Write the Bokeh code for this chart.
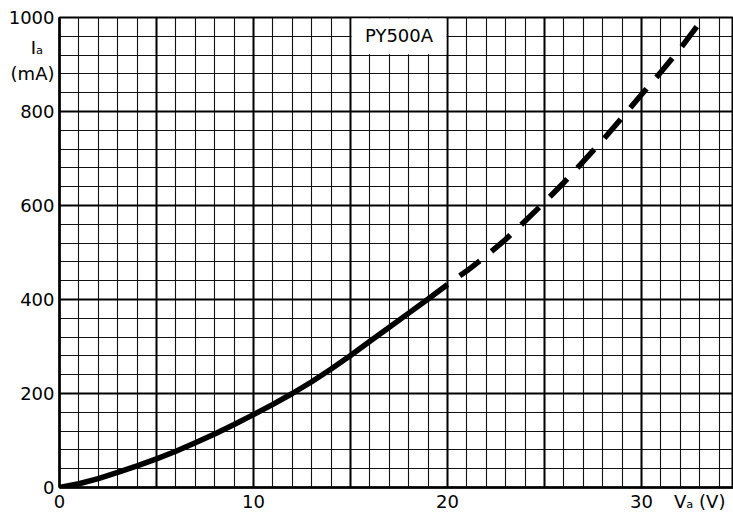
from bokeh.plotting import figure
from bokeh.models import (SingleIntervalTicker, FixedTicker, Grid, Label, BoxAnnotation, Range1d)
from bokeh.embed import file_html
from bokeh.resources import INLINE

# Data (PY500A anode characteristic)
va_solid = [0, 1, 2, 3, 4, 5, 6, 7, 8, 9, 10, 11, 12, 13, 14, 15, 16, 17, 18, 19, 20]
ia_solid = [0, 8, 19, 32, 46, 61, 77, 95, 114, 134, 155, 177, 200, 225, 252, 281, 311, 341, 371, 401, 432]
va_dash = [20, 21, 22, 23, 24, 25, 26, 27, 28, 29, 30, 31, 32, 33.2]
ia_dash = [432, 461, 493, 528, 567, 607, 649, 694, 739, 787, 836, 884, 934, 1000]
x_ticks = [0, 10, 20, 30]
y_ticks = [0, 200, 400, 600, 800, 1000]
title_text = "PY500A"
x_label = "V\u2090 (V)"
y_label_top = "I\u2090 \u00a0"
y_label_unit = "(mA)"

FONT = "DejaVu Sans"
FS = "18px"

p = figure(width=733, height=514, output_backend="svg", toolbar_location=None,
           x_range=Range1d(0, 34.74), y_range=Range1d(0, 1000),
           min_border_left=59, min_border_right=0, min_border_top=17, min_border_bottom=26,
           background_fill_color="white", border_fill_color="white")
p.outline_line_color = "black"
p.outline_line_width = 2

# grids
p.xgrid.ticker = SingleIntervalTicker(interval=1)
p.ygrid.ticker = SingleIntervalTicker(interval=40)
for g in (p.xgrid[0], p.ygrid[0]):
    g.grid_line_color = "#111111"
    g.grid_line_width = 1.1
p.add_layout(Grid(dimension=0, ticker=SingleIntervalTicker(interval=5),
                  grid_line_color="black", grid_line_width=2))
p.add_layout(Grid(dimension=1, ticker=SingleIntervalTicker(interval=200),
                  grid_line_color="black", grid_line_width=2))

# axes
for ax in (p.xaxis[0], p.yaxis[0]):
    ax.axis_line_color = "black"
    ax.axis_line_width = 2.5
    ax.major_tick_line_color = None
    ax.minor_tick_line_color = None
    ax.major_tick_out = 0
    ax.major_tick_in = 0
    ax.minor_tick_out = 0
    ax.axis_label_standoff = 0
    ax.major_label_text_font = FONT
    ax.major_label_text_font_size = FS
    ax.major_label_text_color = "black"
    ax.major_label_standoff = 5
p.xaxis.major_label_standoff = 3

# axis titles placed as extra tick labels at the positions they occupy in the reference
x_label_pos = 33.0
y_label_pos = [937, 881]
p.xaxis.ticker = FixedTicker(ticks=x_ticks + [x_label_pos])
p.xaxis.major_label_overrides = {x_label_pos: x_label}
p.yaxis.ticker = FixedTicker(ticks=y_ticks + y_label_pos)
p.yaxis.major_label_overrides = {y_label_pos[0]: y_label_top, y_label_pos[1]: y_label_unit}

# curve
p.line(va_solid, ia_solid, line_color="black", line_width=5.5)
p.line(va_dash, ia_dash, line_color="black", line_width=5.5,
       line_dash="25 15", line_dash_offset=25, line_cap="butt")

# title box
p.add_layout(BoxAnnotation(left=15.06, right=19.94, bottom=922, top=998,
                           fill_color="white", fill_alpha=1.0, line_color=None))
p.add_layout(Label(x=17.5, y=962, text=title_text, text_font=FONT, text_font_size=FS,
                   text_align="center", text_baseline="middle", text_color="black"))

open("out.html", "w").write(file_html(p, INLINE))
